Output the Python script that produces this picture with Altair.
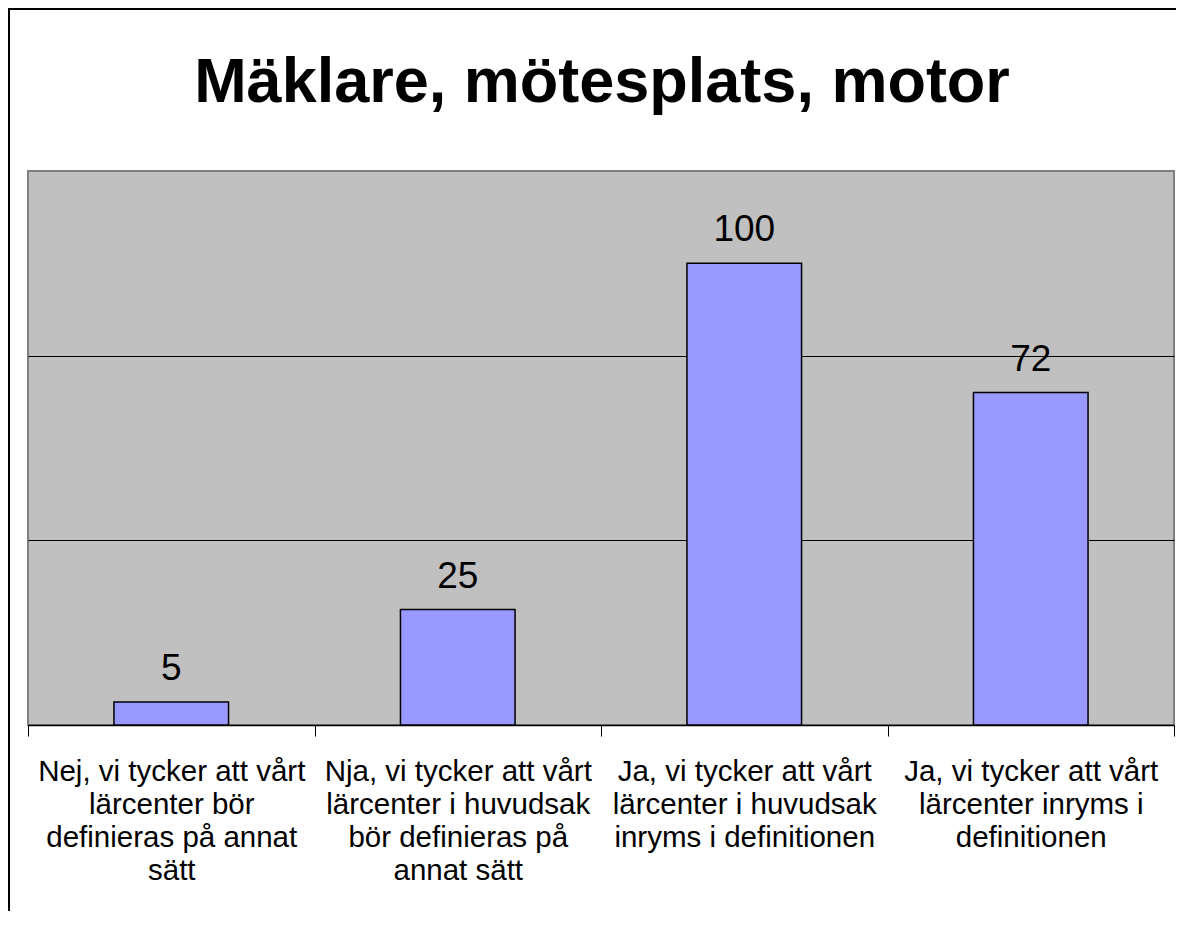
import altair as alt
import pandas as pd

FONT = "Liberation Sans"

title_text = "Mäklare, mötesplats, motor"
categories = [
    "Nej, vi tycker att vårt\nlärcenter bör\ndefinieras på annat\nsätt",
    "Nja, vi tycker att vårt\nlärcenter i huvudsak\nbör definieras på\nannat sätt",
    "Ja, vi tycker att vårt\nlärcenter i huvudsak\ninryms i definitionen",
    "Ja, vi tycker att vårt\nlärcenter inryms i\ndefinitionen",
]
values = [5, 25, 100, 72]
grid_values = [40, 80]

df = pd.DataFrame({"cat": categories, "val": values})
one_df = pd.DataFrame({"title": [title_text]})

x_enc = alt.X(
    "cat:N",
    sort=categories,
    scale=alt.Scale(paddingInner=0, paddingOuter=0),
    axis=alt.Axis(
        title=None,
        labelAngle=0,
        labelExpr="split(datum.label, '\\n')",
        labelFont=FONT,
        labelFontSize=29.5,
        labelLineHeight=33,
        labelColor="black",
        labelLimit=0,
        labelPadding=21,
        labelBaseline="top",
        tickBand="extent",
        tickColor="black",
        tickSize=11,
        tickWidth=1,
        domainColor="black",
        domainWidth=1.5,
        grid=False,
    ),
)
y_enc = alt.Y(
    "val:Q",
    scale=alt.Scale(domain=[0, 120], nice=False),
    axis=alt.Axis(
        title=None,
        values=grid_values,
        grid=True,
        gridColor="black",
        gridWidth=1,
        domain=False,
        ticks=False,
        labels=False,
    ),
)

bars = alt.Chart(df).mark_bar(
    width=alt.RelativeBandSize(0.4), fill="#9999FF", stroke="black", strokeWidth=1.5
).encode(x=x_enc, y=y_enc)

labels = alt.Chart(df).mark_text(
    dy=-22, baseline="alphabetic", fontSize=37, font=FONT, color="black"
).encode(x=alt.X("cat:N", sort=categories), y="val:Q", text="val:Q")

title = alt.Chart(one_df).mark_text(
    baseline="alphabetic", align="center", fontSize=63, fontWeight="bold",
    font=FONT, color="black"
).encode(x=alt.value(574), y=alt.value(-69), text="title:N")

frame_left = alt.Chart(one_df).mark_rule(color="black", strokeWidth=2).encode(
    x=alt.value(-19), y=alt.value(-163), y2=alt.value(745)
)
frame_top = alt.Chart(one_df).mark_rule(color="black", strokeWidth=2).encode(
    x=alt.value(-20), x2=alt.value(1150), y=alt.value(-162)
)

chart = alt.layer(bars, labels, title, frame_left, frame_top).properties(
    width=1146,
    height=554,
    autosize=alt.AutoSizeParams(type="none"),
    padding={"left": 20, "top": 163, "right": 2, "bottom": 186},
).configure(
    background="white"
).configure_view(
    fill="#C0C0C0", stroke="#808080", strokeWidth=2
)

chart.save("out.html", embed_options={"renderer": "svg", "actions": False})
